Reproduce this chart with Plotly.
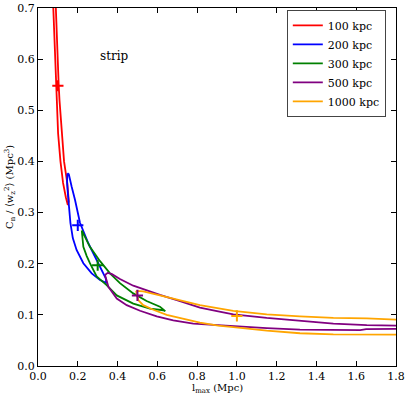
import plotly.graph_objects as go

# contour loops (l_max in Mpc, C_n/<w_z^2> in Mpc^3)
red_x = [0.071, 0.077, 0.085, 0.091, 0.094, 0.101, 0.113, 0.126, 0.140, 0.150,
         0.155, 0.147, 0.131, 0.119, 0.108, 0.104, 0.097, 0.090, 0.084, 0.071]
red_y = [0.76, 0.70, 0.62, 0.55, 0.52, 0.455, 0.40, 0.358, 0.33, 0.315,
         0.322, 0.358, 0.40, 0.455, 0.52, 0.55, 0.62, 0.70, 0.76, 0.76]

blue_x = [0.148, 0.146, 0.150, 0.156, 0.163, 0.175, 0.194, 0.228, 0.270, 0.312, 0.345,
          0.340, 0.328, 0.295, 0.253, 0.211, 0.203, 0.186, 0.169, 0.155, 0.148]
blue_y = [0.377, 0.360, 0.338, 0.310, 0.280, 0.250, 0.227, 0.201, 0.181, 0.168, 0.162,
          0.172, 0.181, 0.207, 0.240, 0.280, 0.295, 0.325, 0.351, 0.375, 0.377]

green_x = [0.220, 0.228, 0.245, 0.261, 0.295, 0.345, 0.396, 0.479, 0.563, 0.630, 0.640,
           0.613, 0.546, 0.479, 0.412, 0.362, 0.312, 0.261, 0.228, 0.220]
green_y = [0.265, 0.233, 0.215, 0.201, 0.175, 0.158, 0.138, 0.122, 0.112, 0.109, 0.107,
           0.116, 0.127, 0.142, 0.162, 0.181, 0.205, 0.233, 0.259, 0.265]

purple_x = [0.337, 0.350, 0.370, 0.412, 0.479, 0.546, 0.613, 0.714, 0.814, 0.906, 0.982,
            1.150, 1.317, 1.485, 1.653, 1.800, 1.900,
            1.900, 1.800, 1.650, 1.620, 1.485, 1.317, 1.150, 0.982, 0.881, 0.781,
            0.680, 0.597, 0.513, 0.446, 0.396, 0.354, 0.337]
purple_y = [0.178, 0.182, 0.180, 0.170, 0.157, 0.148, 0.139, 0.127, 0.114, 0.107, 0.101,
            0.094, 0.088, 0.083, 0.080, 0.079, 0.078,
            0.073, 0.073, 0.072, 0.070, 0.070, 0.071, 0.074, 0.078, 0.080, 0.083,
            0.089, 0.097, 0.108, 0.119, 0.132, 0.155, 0.178]

orange_x = [0.493, 0.529, 0.613, 0.714, 0.814, 0.982, 1.150, 1.317, 1.485, 1.653, 1.800, 1.900,
            1.900, 1.800, 1.653, 1.485, 1.317, 1.150, 0.982, 0.906, 0.814, 0.731,
            0.647, 0.580, 0.529, 0.504, 0.496, 0.493]
orange_y = [0.147, 0.146, 0.138, 0.129, 0.119, 0.108, 0.101, 0.097, 0.094, 0.093, 0.090, 0.089,
            0.061, 0.061, 0.061, 0.062, 0.064, 0.069, 0.076, 0.079, 0.085, 0.092,
            0.100, 0.110, 0.119, 0.129, 0.139, 0.147]

# true values (crosses)
mark_x = [0.1, 0.2, 0.3, 0.5, 1.0]
mark_y = [0.548, 0.275, 0.197, 0.138, 0.098]

labels = ['100 kpc', '200 kpc', '300 kpc', '500 kpc', '1000 kpc']
colors = ['red', 'blue', 'green', 'purple', 'orange']
loops = [(red_x, red_y), (blue_x, blue_y), (green_x, green_y),
         (purple_x, purple_y), (orange_x, orange_y)]

font = 'DejaVu Serif'

fig = go.Figure()
for (lx, ly), name, c in zip(loops, labels, colors):
    fig.add_trace(go.Scatter(x=lx, y=ly, mode='lines', name=name,
                             line=dict(color=c, width=1.8)))
for mx, my, c in zip(mark_x, mark_y, colors):
    fig.add_trace(go.Scatter(x=[mx], y=[my], mode='markers', showlegend=False,
                             marker=dict(symbol='cross-thin', size=8,
                                         line=dict(color=c, width=2))))

fig.add_annotation(text='strip', x=0.3, y=0.607, xref='x', yref='y',
                   xanchor='left', showarrow=False,
                   font=dict(family=font, size=12, color='black'))

# axis titles as annotations so the margins stay fixed
fig.add_annotation(text='l<sub>max</sub> (Mpc)', x=0.5, y=0, xref='paper', yref='paper',
                   yanchor='top', yshift=-14, showarrow=False,
                   font=dict(family=font, size=10, color='black'))
fig.add_annotation(text='C<sub>n</sub> / ⟨w<sub>z</sub><sup>2</sup>⟩ (Mpc<sup>3</sup>)',
                   x=0, y=0.5, xref='paper', yref='paper', textangle=-90,
                   xanchor='center', xshift=-28, showarrow=False,
                   font=dict(family=font, size=10, color='black'))

axis_common = dict(showgrid=False, zeroline=False, showline=True, linecolor='black',
                   linewidth=1, mirror='ticks', ticks='inside', ticklen=5,
                   tickcolor='black', automargin=False,
                   tickfont=dict(family=font, size=11, color='black'))

fig.update_xaxes(range=[0, 1.8], dtick=0.2, tickformat='.1f', **axis_common)
fig.update_yaxes(range=[0, 0.7], dtick=0.1, tickformat='.1f', **axis_common)

fig.update_layout(width=407, height=397,
                  margin=dict(l=38, r=11, t=8, b=31),
                  plot_bgcolor='white', paper_bgcolor='white',
                  legend=dict(x=0.695, y=0.995, xanchor='left', yanchor='top',
                              bgcolor='white', bordercolor='#444', borderwidth=1,
                              font=dict(family=font, size=11, color='black'),
                              tracegroupgap=0))

# drop the page's default body margin so the figure sits at the window corner
fig.write_html("out.html", config={'displayModeBar': False},
               post_script="document.body.style.margin='0';")
